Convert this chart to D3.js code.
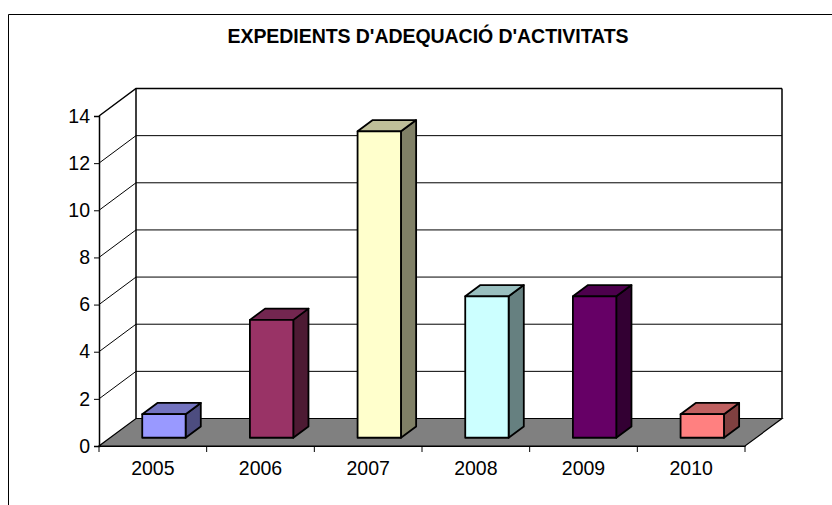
<!DOCTYPE html>
<html>
<head>
<meta charset="utf-8">
<script src="https://cdn.jsdelivr.net/npm/d3@7"></script>
<style>
  body { margin: 0; background: #fff; }
  text { font-family: "Liberation Sans", Arial, sans-serif; fill: #000; }
</style>
</head>
<body>
<div id="container"></div>
<script>
const years = ["2005", "2006", "2007", "2008", "2009", "2010"];
const counts = [1, 5, 13, 6, 6, 1];
const frontColors = ["#9999ff", "#993366", "#ffffcc", "#ccffff", "#660066", "#ff8080"];
const topColors = ["#7373bf", "#732650", "#bfbf99", "#99bfbf", "#4d004d", "#bf6060"];
const sideColors = ["#4d4d80", "#4d1a33", "#808066", "#668080", "#330033", "#804040"];
const yTicks = [0, 2, 4, 6, 8, 10, 12, 14];

const width = 832, height = 505;
const svg = d3.select("#container").append("svg")
    .attr("width", width)
    .attr("height", height)
    .style("display", "block");

// chart frame, runs off the right and bottom of the picture
svg.append("path")
    .attr("d", "M8.5,505V14.5H832")
    .attr("fill", "none")
    .attr("stroke", "#000");

svg.append("text")
    .attr("x", 428)
    .attr("y", 43)
    .attr("text-anchor", "middle")
    .attr("font-size", 19.5)
    .attr("font-weight", "bold")
    .attr("textLength", 401)
    .attr("lengthAdjust", "spacing")
    .text("EXPEDIENTS D'ADEQUACIÓ D'ACTIVITATS");

const x = d3.scaleBand().domain(years).range([99, 745]).paddingInner(0).paddingOuter(0);
const y = d3.scaleLinear().domain([0, 14]).range([446, 116]);

// depth offset of the 3d box
const depthX = 37, depthY = -27.5;
const line = d3.line();
function px(xv, val, z) {
    return [xv + depthX * z, y(val) + depthY * z];
}

// walls and floor
svg.append("path")
    .attr("d", line([px(99, 0, 0), px(745, 0, 0), px(745, 0, 1), px(99, 0, 1)]) + "Z")
    .attr("fill", "#808080");

const grid = svg.append("g");
yTicks.filter(d => d > 0).forEach(d => {
    grid.append("path")
        .attr("d", line([px(99, d, 0), px(99, d, 1), px(745, d, 1)]))
        .attr("fill", "none")
        .attr("stroke", "#000")
        .attr("stroke-width", d === 14 ? 1.5 : 1);
});
svg.append("path")
    .attr("d", line([px(99, 0, 0), px(745, 0, 0), px(745, 0, 1), px(99, 0, 1)]) + "Z")
    .attr("fill", "none")
    .attr("stroke", "#000")
    .attr("stroke-width", 1.2);
svg.append("path")
    .attr("d", line([px(99, 0, 1), px(99, 14, 1)]) + "M" + px(745, 0, 1) + "L" + px(745, 14, 1))
    .attr("fill", "none")
    .attr("stroke", "#000")
    .attr("stroke-width", 1.5);

// bars
const barW = x.bandwidth() * 0.403;
const z0 = 0.3, z1 = 0.71;
const bars = svg.append("g").selectAll("g")
    .data(years)
  .enter().append("g")
    .attr("stroke", "#000")
    .attr("stroke-width", 1.8)
    .attr("stroke-linejoin", "round");

function barX(d) {
    return x(d) + (x.bandwidth() - barW) / 2;
}
bars.append("path")
    .attr("fill", (d, i) => sideColors[i])
    .attr("d", (d, i) => {
        const r = barX(d) + barW;
        return line([px(r, 0, z0), px(r, 0, z1), px(r, counts[i], z1), px(r, counts[i], z0)]) + "Z";
    });
bars.append("path")
    .attr("fill", (d, i) => topColors[i])
    .attr("d", (d, i) => {
        const l = barX(d), r = l + barW;
        return line([px(l, counts[i], z0), px(r, counts[i], z0), px(r, counts[i], z1), px(l, counts[i], z1)]) + "Z";
    });
bars.append("path")
    .attr("fill", (d, i) => frontColors[i])
    .attr("d", (d, i) => {
        const l = barX(d), r = l + barW;
        return line([px(l, 0, z0), px(r, 0, z0), px(r, counts[i], z0), px(l, counts[i], z0)]) + "Z";
    });

// axes
const yAxis = svg.append("g")
    .attr("transform", "translate(99,0)")
    .call(d3.axisLeft(y).tickValues(yTicks).tickSize(5).tickPadding(4));
const xAxis = svg.append("g")
    .attr("transform", "translate(0,446)")
    .call(d3.axisBottom(x).tickSize(0).tickPadding(15));
xAxis.selectAll(".tick")
    .append("line")
    .attr("x1", -x.bandwidth() / 2)
    .attr("x2", -x.bandwidth() / 2)
    .attr("y2", 6)
    .attr("stroke", "#000");
xAxis.append("line")
    .attr("x1", 745).attr("x2", 745).attr("y2", 6)
    .attr("stroke", "#000");
svg.selectAll(".tick text").attr("font-size", 19.5).attr("font-family", null);
yAxis.select(".domain").attr("stroke-width", 1.5);
</script>
</body>
</html>
